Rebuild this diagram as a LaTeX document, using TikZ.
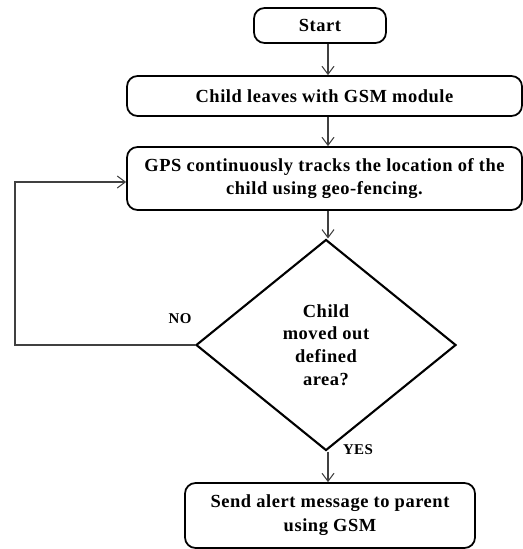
\documentclass[tikz,border=0pt]{standalone}
\usepackage{fontspec}
\setmainfont{Liberation Serif}[LetterSpace=3]
\usetikzlibrary{shapes.geometric,arrows.meta}
\def\scale{1}
\tikzstyle{step box} = [draw, rounded corners=6pt, line width=1pt, align=center, font=\bfseries\fontsize{10.5}{13.6}\selectfont, inner sep=2pt]
\tikzstyle{decision} = [draw, diamond, line width=1.2pt, align=center, inner sep=0pt, font=\bfseries\fontsize{10.5}{13}\selectfont, minimum width=5.2cm, minimum height=4.22cm]
\tikzstyle{edge} = [draw, line width=0.6pt, black!75, -{Straight Barb[length=1.6mm,width=2.4mm]}]
\tikzstyle{answer} = [font=\bfseries\fontsize{8.5}{9}\selectfont]

\begin{document}
\begin{tikzpicture}[scale=\scale]
    \useasboundingbox (0,0) rectangle (10.46,-10.98);
    % boxes of the flow
    \node[step box, minimum width=2.64cm, minimum height=0.70cm] (start) at (6.40,-0.51) {Start};
    \node[step box, minimum width=7.90cm, minimum height=0.80cm] (leaves) at (6.49,-1.92) {Child leaves with GSM module};
    \node[step box, minimum width=7.90cm, minimum height=1.26cm] (gps) at (6.49,-3.57) {GPS continuously tracks the location of the\\child using geo-fencing.};
    \node[decision] (check) at (6.52,-6.90) {Child\\moved out\\defined\\area?};
    \node[step box, minimum width=5.80cm, minimum height=1.30cm] (alert) at (6.60,-10.31) {Send alert message to parent\\using GSM};
    \coordinate (col) at (6.56,0);
    \coordinate (loop) at (0.30,0);

    \foreach \source/\sink in {start/leaves, leaves/gps, gps/check, check/alert} {
        \path[edge] (\source.south -| col) -- (\sink.north -| col);
    }
    \path[edge] (check.west) -- (check.west -| loop) |- ([yshift=-2pt]gps.west);

    \node[answer] (no) at (3.60,-6.38) {NO};
    \node[answer] (yes) at (7.16,-9.00) {YES};
\end{tikzpicture}
\end{document}
